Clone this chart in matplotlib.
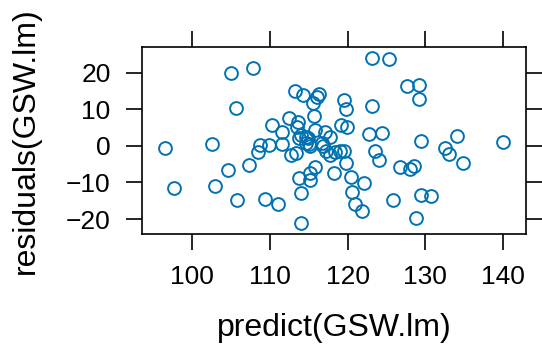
import matplotlib
matplotlib.use("Agg")
import matplotlib.pyplot as plt

plt.rcParams['font.family'] = ['Liberation Sans', 'DejaVu Sans']

predicted = [96.5, 97.6, 102.6, 102.9, 104.6, 105.0, 105.6, 105.8, 107.3, 107.8,
             108.5, 108.7, 109.4, 109.9, 110.3, 111.0, 111.5, 111.5, 112.4, 112.7,
             113.2, 113.3, 113.6, 113.5, 113.8, 114.0, 114.0, 114.2, 113.7, 114.0,
             114.6, 114.9, 115.0, 115.1, 115.2, 115.1, 115.5, 115.7, 115.8, 115.8,
             116.1, 116.3, 117.1, 116.9, 117.2, 117.7, 117.8, 118.3, 118.4, 119.0,
             119.1, 119.5, 119.6, 119.8, 119.9, 119.8, 120.4, 120.6, 121.0, 121.9,
             122.1, 122.7, 123.1, 123.1, 123.5, 124.0, 124.4, 125.3, 125.8, 126.7,
             127.7, 128.0, 128.5, 128.8, 129.2, 129.2, 129.4, 129.5, 130.7, 132.5,
             133.1, 134.1, 134.8, 140.0, 114.7, 116.7]
residuals = [-0.5, -11.6, 0.4, -10.9, -6.7, 20.0, 10.3, -14.9, -5.3, 21.3,
             -1.8, 0.1, -14.5, 0.1, 5.7, -16.0, 3.7, 0.4, 7.6, -2.6,
             14.9, -2.0, 6.4, 5.2, -8.8, -13.0, -21.0, 13.9, 2.2, 3.0,
             2.5, 2.2, 0.6, 0.0, -9.3, -7.3, 11.8, 8.2, -5.9, 4.3,
             13.3, 14.1, 3.9, 0.0, -1.4, 2.5, -2.5, -7.3, -1.6, -1.4,
             5.8, -1.4, 12.5, 10.2, 5.1, -4.8, -8.5, -12.6, -15.8, -17.9,
             -10.1, 3.2, 23.9, 10.8, -1.4, -4.0, 3.5, 23.7, -14.9, -5.9,
             16.3, -6.2, -5.5, -19.8, 16.7, 12.8, -13.4, 1.3, -13.6, -0.5,
             -2.2, 2.8, -4.8, 1.0, 0.7, 0.7]

x_ticks = [100, 110, 120, 130, 140]
y_ticks = [-20, -10, 0, 10, 20]

fig = plt.figure(figsize=(5.42, 3.51), dpi=100)
ax = fig.add_axes([0.2611, 0.3325, 0.7103, 0.5327])
ax.plot(predicted, residuals, linestyle='none', marker='o', markersize=9.2,
        markerfacecolor='none', markeredgecolor='#0072B2', markeredgewidth=1.4)
ax.set_xlim(93.47, 143.04)
ax.set_ylim(-24.18, 26.94)
ax.set_xticks(x_ticks)
ax.set_yticks(y_ticks)
for s in ax.spines.values():
    s.set_linewidth(1.2)
ax.tick_params(direction='out', length=11.2, width=1.2, labelsize=19, pad=11,
               top=True, right=True, labeltop=False, labelright=False)
fig.text(0.6162, 1 - 328 / 351, 'predict(GSW.lm)', fontsize=23, ha='center', va='center')
fig.text(26 / 542, 1 - 141 / 351, 'residuals(GSW.lm)', fontsize=23, ha='center', va='center',
         rotation=90)
fig.savefig('out.png', dpi=100)
